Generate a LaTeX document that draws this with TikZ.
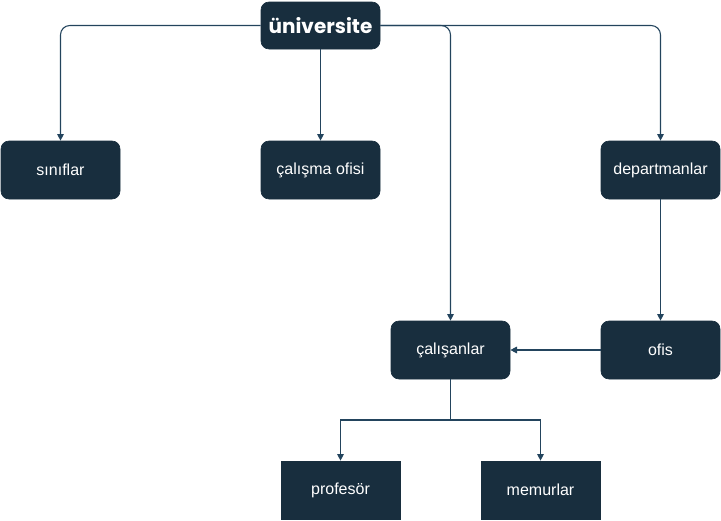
\documentclass[tikz,border=0pt]{standalone}
\usepackage{fontspec}
\setmainfont{Liberation Sans}
\newfontfamily\titlefont{Poppins}
\usetikzlibrary{arrows.meta}
\definecolor{boxfill}{HTML}{182E3E}
\definecolor{linec}{HTML}{23445D}
\begin{document}
\begin{tikzpicture}[x=0.75pt,y=-0.75pt,
  box/.style={draw=boxfill,fill=boxfill,text=white,minimum width=89.25pt,minimum height=43.5pt,inner sep=0pt,font=\fontsize{12}{14}\selectfont,rounded corners=6pt,line width=0.5pt},
  sqbox/.style={box,rounded corners=0pt},
  conn/.style={draw=linec,line width=0.8pt,-{Triangle[length=5pt,width=5pt]}},
  rconn/.style={conn,rounded corners=7pt}]
\useasboundingbox (0,0) rectangle (721,521);
\node[box,minimum height=35.25pt] (uni) at (320.5,25.5) {\titlefont\bfseries\fontsize{15}{17}\selectfont üniversite};
\node[box] (sin) at (60.5,170) {sınıflar};
\node[box] (cal) at (320.5,170) {çalışma ofisi};
\node[box] (dep) at (660.5,170) {departmanlar};
\node[box] (cals) at (450.5,350) {çalışanlar};
\node[box] (ofis) at (660.5,350) {ofis};
\node[sqbox] (prof) at (340.5,490) {profesör};
\node[sqbox] (mem) at (540.5,490) {memurlar};
\coordinate (split) at (450.5,420);
\draw[rconn] (uni.west) -| (sin.north);
\draw[conn] (uni.south) -- (cal.north);
\draw[rconn] (uni.east) -| (cals.north);
\draw[rconn] (uni.east) -| (dep.north);
\draw[conn] (dep.south) -- (ofis.north);
\draw[conn] (ofis.west) -- (cals.east);
\draw[draw=linec,line width=0.8pt] (cals.south) -- (split);
\draw[conn] (split) -| (prof.north);
\draw[conn] (split) -| (mem.north);
\end{tikzpicture}
\end{document}
